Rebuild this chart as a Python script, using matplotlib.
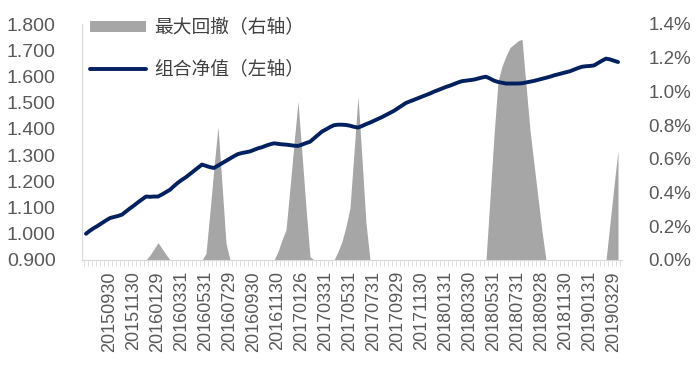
import matplotlib
matplotlib.use('Agg')
import matplotlib.pyplot as plt
import numpy as np
from matplotlib.patches import Patch
from matplotlib.lines import Line2D

# 组合净值 (left axis), one value per category
nav = [1.000, 1.012, 1.022, 1.031, 1.041, 1.051, 1.060, 1.064, 1.068, 1.073,
       1.085, 1.097, 1.108, 1.120, 1.131, 1.142, 1.141, 1.142, 1.142, 1.150,
       1.159, 1.168, 1.182, 1.195, 1.206, 1.216, 1.228, 1.240, 1.252, 1.264,
       1.259, 1.254, 1.251, 1.260, 1.269, 1.278, 1.287, 1.296, 1.304, 1.308,
       1.311, 1.314, 1.320, 1.326, 1.330, 1.336, 1.341, 1.345, 1.343, 1.341,
       1.340, 1.338, 1.336, 1.335, 1.340, 1.346, 1.351, 1.364, 1.377, 1.390,
       1.398, 1.407, 1.414, 1.416, 1.416, 1.415, 1.412, 1.408, 1.405, 1.411,
       1.418, 1.424, 1.431, 1.438, 1.445, 1.453, 1.461, 1.469, 1.479, 1.489,
       1.499, 1.505, 1.511, 1.517, 1.523, 1.529, 1.535, 1.542, 1.548, 1.554,
       1.560, 1.565, 1.571, 1.577, 1.582, 1.584, 1.586, 1.588, 1.592, 1.596,
       1.599, 1.592, 1.584, 1.579, 1.576, 1.573, 1.573, 1.573, 1.573, 1.574,
       1.577, 1.580, 1.583, 1.587, 1.591, 1.595, 1.599, 1.604, 1.608, 1.612,
       1.616, 1.620, 1.626, 1.632, 1.637, 1.639, 1.640, 1.642, 1.651, 1.660,
       1.668, 1.665, 1.660, 1.655]

# 最大回撤 in % (right axis)
drawdown = [0, 0, 0, 0, 0, 0, 0, 0, 0, 0,
            0, 0, 0, 0, 0, 0, 0.03, 0.065, 0.103, 0.068,
            0.033, 0, 0, 0, 0, 0, 0, 0, 0, 0,
            0.04, 0.29, 0.55, 0.79, 0.45, 0.10, 0, 0, 0, 0,
            0, 0, 0, 0, 0, 0, 0, 0, 0.05, 0.12,
            0.18, 0.43, 0.69, 0.94, 0.63, 0.31, 0.02, 0, 0, 0,
            0, 0, 0, 0.05, 0.11, 0.20, 0.31, 0.64, 0.97, 0.60,
            0.22, 0, 0, 0, 0, 0, 0, 0, 0, 0,
            0, 0, 0, 0, 0, 0, 0, 0, 0, 0,
            0, 0, 0, 0, 0, 0, 0, 0, 0, 0,
            0, 0.37, 0.74, 1.06, 1.15, 1.21, 1.26, 1.28, 1.30, 1.31,
            1.04, 0.77, 0.57, 0.37, 0.17, 0, 0, 0, 0, 0,
            0, 0, 0, 0, 0, 0, 0, 0, 0, 0,
            0, 0.22, 0.44, 0.65]

date_labels = ['20150930', '20151130', '20160129', '20160331', '20160531',
               '20160729', '20160930', '20161130', '20170126', '20170331',
               '20170531', '20170731', '20170929', '20171130', '20180131',
               '20180330', '20180531', '20180731', '20180928', '20181130',
               '20190131', '20190329']
label_step = 6
label_start = 6

plt.rcParams['font.family'] = ['Liberation Sans', 'Noto Sans CJK SC', 'DejaVu Sans']

x = np.arange(len(nav))
fig = plt.figure(figsize=(6.99, 3.81), dpi=100)
ax = fig.add_axes([82/699, 1-260/381, 540/699, 236/381])

area = ax.fill_between(x, 0, drawdown, color='#A6A6A6', lw=0)
ax.set_ylim(0, 1.4)
ax.set_xlim(-1, len(nav))

ax.set_xticks(np.arange(label_start, label_start + label_step*len(date_labels), label_step))
ax.set_xticklabels(date_labels, rotation=90)
ax.set_xticks(np.arange(-0.5, len(nav), 1), minor=True)
ax.tick_params(axis='x', which='major', length=0, pad=8, labelsize=13, labelcolor='#595959')
ax.tick_params(axis='x', which='minor', length=4, color='#D9D9D9', direction='out')
for s in ['top', 'right']:
    ax.spines[s].set_visible(False)
ax.spines['bottom'].set_color('#D9D9D9')
ax.spines['left'].set_color('#D9D9D9')

ax2 = ax.twinx()
line, = ax2.plot(x, nav, color='#002060', lw=2.8, solid_capstyle='round',
                 solid_joinstyle='round')
ax2.set_ylim(0.9, 1.8)
ax2.yaxis.tick_left()
ax2.set_yticks(np.arange(0.9, 1.801, 0.1))
ax2.set_yticklabels(['%.3f' % v for v in np.arange(0.9, 1.801, 0.1)])
ax2.tick_params(axis='y', length=0, pad=19, labelsize=14, labelcolor='#595959')
for s in ax2.spines.values():
    s.set_visible(False)

# the drawdown axis shows its labels on the right
ax.yaxis.tick_right()
ax.set_yticks(np.arange(0, 1.41, 0.2))
ax.set_yticklabels(['%.1f%%' % v for v in np.arange(0, 1.41, 0.2)])
ax.tick_params(axis='y', length=0, pad=19, labelsize=13.5, labelcolor='#595959')

handles = [Patch(facecolor='#A6A6A6', edgecolor='none'),
           Line2D([], [], color='#002060', lw=2.8, solid_capstyle='round')]
ax2.legend(handles, ['最大回撤（右轴）', '组合净值（左轴）'],
           loc='upper left', bbox_to_anchor=(0.015, 1.03), frameon=False,
           borderpad=0, borderaxespad=0, handlelength=3.0, handleheight=0.5,
           handletextpad=0.4, labelspacing=1.1, labelcolor='#404040',
           prop={'family': ['Noto Sans CJK SC', 'DejaVu Sans'], 'size': 13.5})

fig.savefig('out.png', dpi=100)
